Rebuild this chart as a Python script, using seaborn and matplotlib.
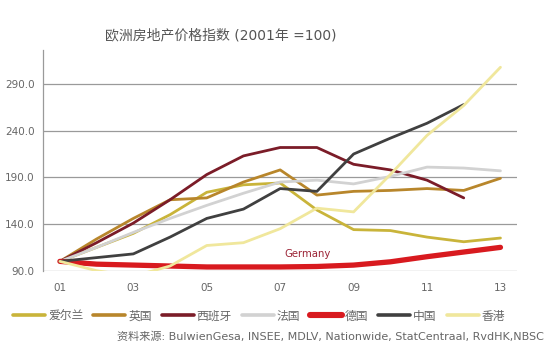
import numpy as np
import pandas as pd
import matplotlib
matplotlib.use("Agg")
import matplotlib.pyplot as plt
import seaborn as sns
from matplotlib.lines import Line2D

# ----------------------------------------------------------
# data (2001 = 100)
# ----------------------------------------------------------
years = list(range(2001, 2014))
tick_years = [2001, 2003, 2005, 2007, 2009, 2011, 2013]
tick_labels = ['01', '03', '05', '07', '09', '11', '13']

ireland = [100, 115, 130, 150, 174, 182, 184, 155, 134, 133, 126, 121, 125]
uk = [100, 124, 146, 166, 168, 185, 198, 171, 175, 176, 178, 176, 189]
spain = [100, 120, 141, 166, 193, 213, 222, 222, 204, 198, 187, 168]
france = [100, 115, 131, 146, 160, 173, 185, 187, 183, 191, 201, 200, 197]
germany = [100, 97, 96, 95, 94, 94, 94, 94.5, 96, 99.5, 105, 110, 115]
china = [100, 104, 108, 126, 146, 156, 178, 175, 215, 232, 248, 268]
hongkong = [100, 90, 84, 95, 117, 120, 135, 157, 153, 193, 235, 267, 308]

names = ['爱尔兰', '英国', '西班牙', '法国', '德国', '中国', '香港']
series = [ireland, uk, spain, france, germany, china, hongkong]
colors = ['#c9b43a', '#b8862b', '#7b1c28', '#d2d2d2', '#d81a1f', '#404040', '#f0e79c']
widths = [2.0, 2.0, 2.0, 2.0, 3.8, 2.0, 2.0]

# ----------------------------------------------------------
# main
# ----------------------------------------------------------
sns.set_style('white')
plt.rcParams['font.family'] = ['DejaVu Sans', 'Noto Sans CJK SC']

fig = plt.figure(figsize=(5.55, 3.52), dpi=100)
ax = fig.add_axes([0.0775, 0.231, 0.854, 0.627])

for name, vals, c, lw in zip(names, series, colors, widths):
    df = pd.DataFrame({'year': years[:len(vals)], 'value': vals})
    sns.lineplot(data=df, x='year', y='value', color=c, lw=lw, ax=ax, legend=False)

ax.set_xlim(2000.54, 2013.45)
ax.set_ylim(90, 326.5)
ax.set_yticks([90, 140, 190, 240, 290])
ax.set_yticklabels(['90.0', '140.0', '190.0', '240.0', '290.0'])
ax.set_xticks(tick_years)
ax.set_xticklabels(tick_labels)
ax.set_xlabel('')
ax.set_ylabel('')
ax.grid(axis='y', color='#9a9a9a', lw=0.9)
ax.set_axisbelow(True)
for s in ['top', 'right', 'bottom']:
    ax.spines[s].set_visible(False)
ax.spines['left'].set_color('#9a9a9a')
ax.spines['left'].set_linewidth(0.9)
ax.tick_params(axis='y', length=3, color='#9a9a9a', labelsize=7.5, labelcolor='#666666', pad=3)
ax.tick_params(axis='x', length=0, labelsize=7.5, labelcolor='#666666', pad=9)

ax.text(2007.75, 108, 'Germany', ha='center', va='center', fontsize=7.3, color='#9b2335')

fig.text(0.397, 0.9, '欧洲房地产价格指数 (2001年 =100)', ha='center', va='center',
         fontsize=10, color='#555555', fontweight='medium')

handles = [Line2D([0], [0], color=c, lw=lw + 0.6) for c, lw in zip(colors, widths)]
fig.legend(handles, names, loc='center', bbox_to_anchor=(0.467, 0.102), ncol=7,
           frameon=False, fontsize=8.5, handlelength=2.7, handletextpad=0.25,
           columnspacing=0.85, labelcolor='#666666')

fig.text(0.596, 0.043, '资料来源: BulwienGesa, INSEE, MDLV, Nationwide, StatCentraal, RvdHK,NBSC',
         ha='center', va='center', fontsize=8.0, color='#666666')

plt.savefig('out.png', dpi=100)
